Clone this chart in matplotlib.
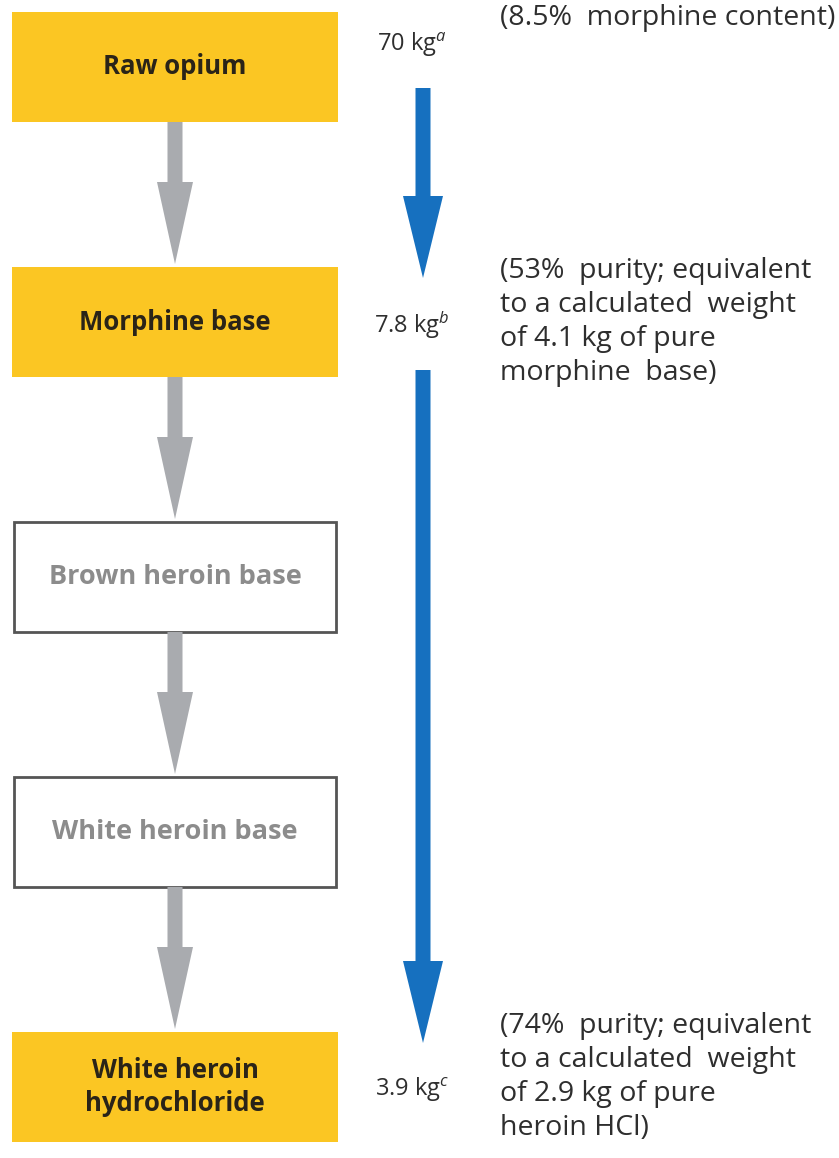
import matplotlib
matplotlib.use("Agg")
import matplotlib.pyplot as plt
from matplotlib.patches import Rectangle, FancyArrow

# Stages of the conversion, top to bottom
stages = ["Raw opium", "Morphine base", "Brown heroin base",
          "White heroin base", "White heroin\nhydrochloride"]
highlighted = [True, True, False, False, True]

# Weights measured at some stages (stage index -> label)
weight_stage = [0, 1, 4]
weight_value = ["70", "7.8", "3.9"]
weight_note = ["a", "b", "c"]
notes = ["(8.5%  morphine content)",
         "(53%  purity; equivalent\nto a calculated  weight\nof 4.1 kg of pure\nmorphine  base)",
         "(74%  purity; equivalent\nto a calculated  weight\nof 2.9 kg of pure\nheroin HCl)"]

YELLOW = "#FBC623"
GREY_ARROW = "#A9ABAF"
BLUE = "#1670BF"
TEXT = "#2E2E2E"
FONT = "Open Sans"

plt.rcParams["font.family"] = [FONT, "DejaVu Sans"]
plt.rcParams["mathtext.fontset"] = "custom"
plt.rcParams["mathtext.rm"] = FONT
plt.rcParams["mathtext.it"] = FONT + ":italic"

W, H = 839, 1158
fig = plt.figure(figsize=(W / 100, H / 100), dpi=100)
ax = fig.add_axes([0, 0, 1, 1])
ax.set_xlim(0, W)
ax.set_ylim(H, 0)
ax.axis("off")

box_left, box_right = 12, 338
box_h = 110
first_top, step = 12, 255
box_cx = (box_left + box_right) / 2


def top_of(i):
    return first_top + i * step


def center_of(i):
    return top_of(i) + box_h / 2


# boxes and grey arrows
for i, (name, hl) in enumerate(zip(stages, highlighted)):
    t = top_of(i)
    if hl:
        ax.add_patch(Rectangle((box_left, t), box_right - box_left, box_h,
                               facecolor=YELLOW, edgecolor="none"))
        col = "#2A2418"
        fs = 18.5
    else:
        ax.add_patch(Rectangle((box_left + 2, t), box_right - box_left - 4, box_h,
                               facecolor="white", edgecolor="#555555", lw=2))
        col = "#8C8C8C"
        fs = 19.5
    ax.text(box_cx, center_of(i), name, ha="center", va="center",
            fontsize=fs, fontweight="bold", color=col, linespacing=1.28)
    if i < len(stages) - 1:
        y0 = t + box_h
        y1 = top_of(i + 1)
        ax.add_patch(FancyArrow(box_cx, y0, 0, y1 - y0 - 3, width=15,
                                head_width=36, head_length=82,
                                length_includes_head=True,
                                color=GREY_ARROW, lw=0))

# weights, notes and blue arrows
wx = 412
note_dy = [0, 0, -10]
for k, (s, v, n, note) in enumerate(zip(weight_stage, weight_value,
                                         weight_note, notes)):
    cy = center_of(s)
    wy = cy - 22 if k == 0 else cy + 3
    ax.text(wx, wy, f"{v} kg$^{{\\mathit{{{n}}}}}$", ha="center", va="center",
            fontsize=17, color=TEXT)
    if "\n" in note:
        ax.text(500, cy + note_dy[k], note, ha="left", va="center",
                fontsize=20.5, color=TEXT, linespacing=1.3)
    else:
        ax.text(500, 4, note, ha="left", va="top", fontsize=20.5, color=TEXT)
    if k < len(weight_stage) - 1:
        y0 = cy + (21 if k == 0 else 48)
        y1 = center_of(weight_stage[k + 1]) - 44
        ax.add_patch(FancyArrow(423, y0, 0, y1 - y0, width=15,
                                head_width=40, head_length=82,
                                length_includes_head=True, color=BLUE, lw=0))

fig.savefig("out.png", dpi=100)
